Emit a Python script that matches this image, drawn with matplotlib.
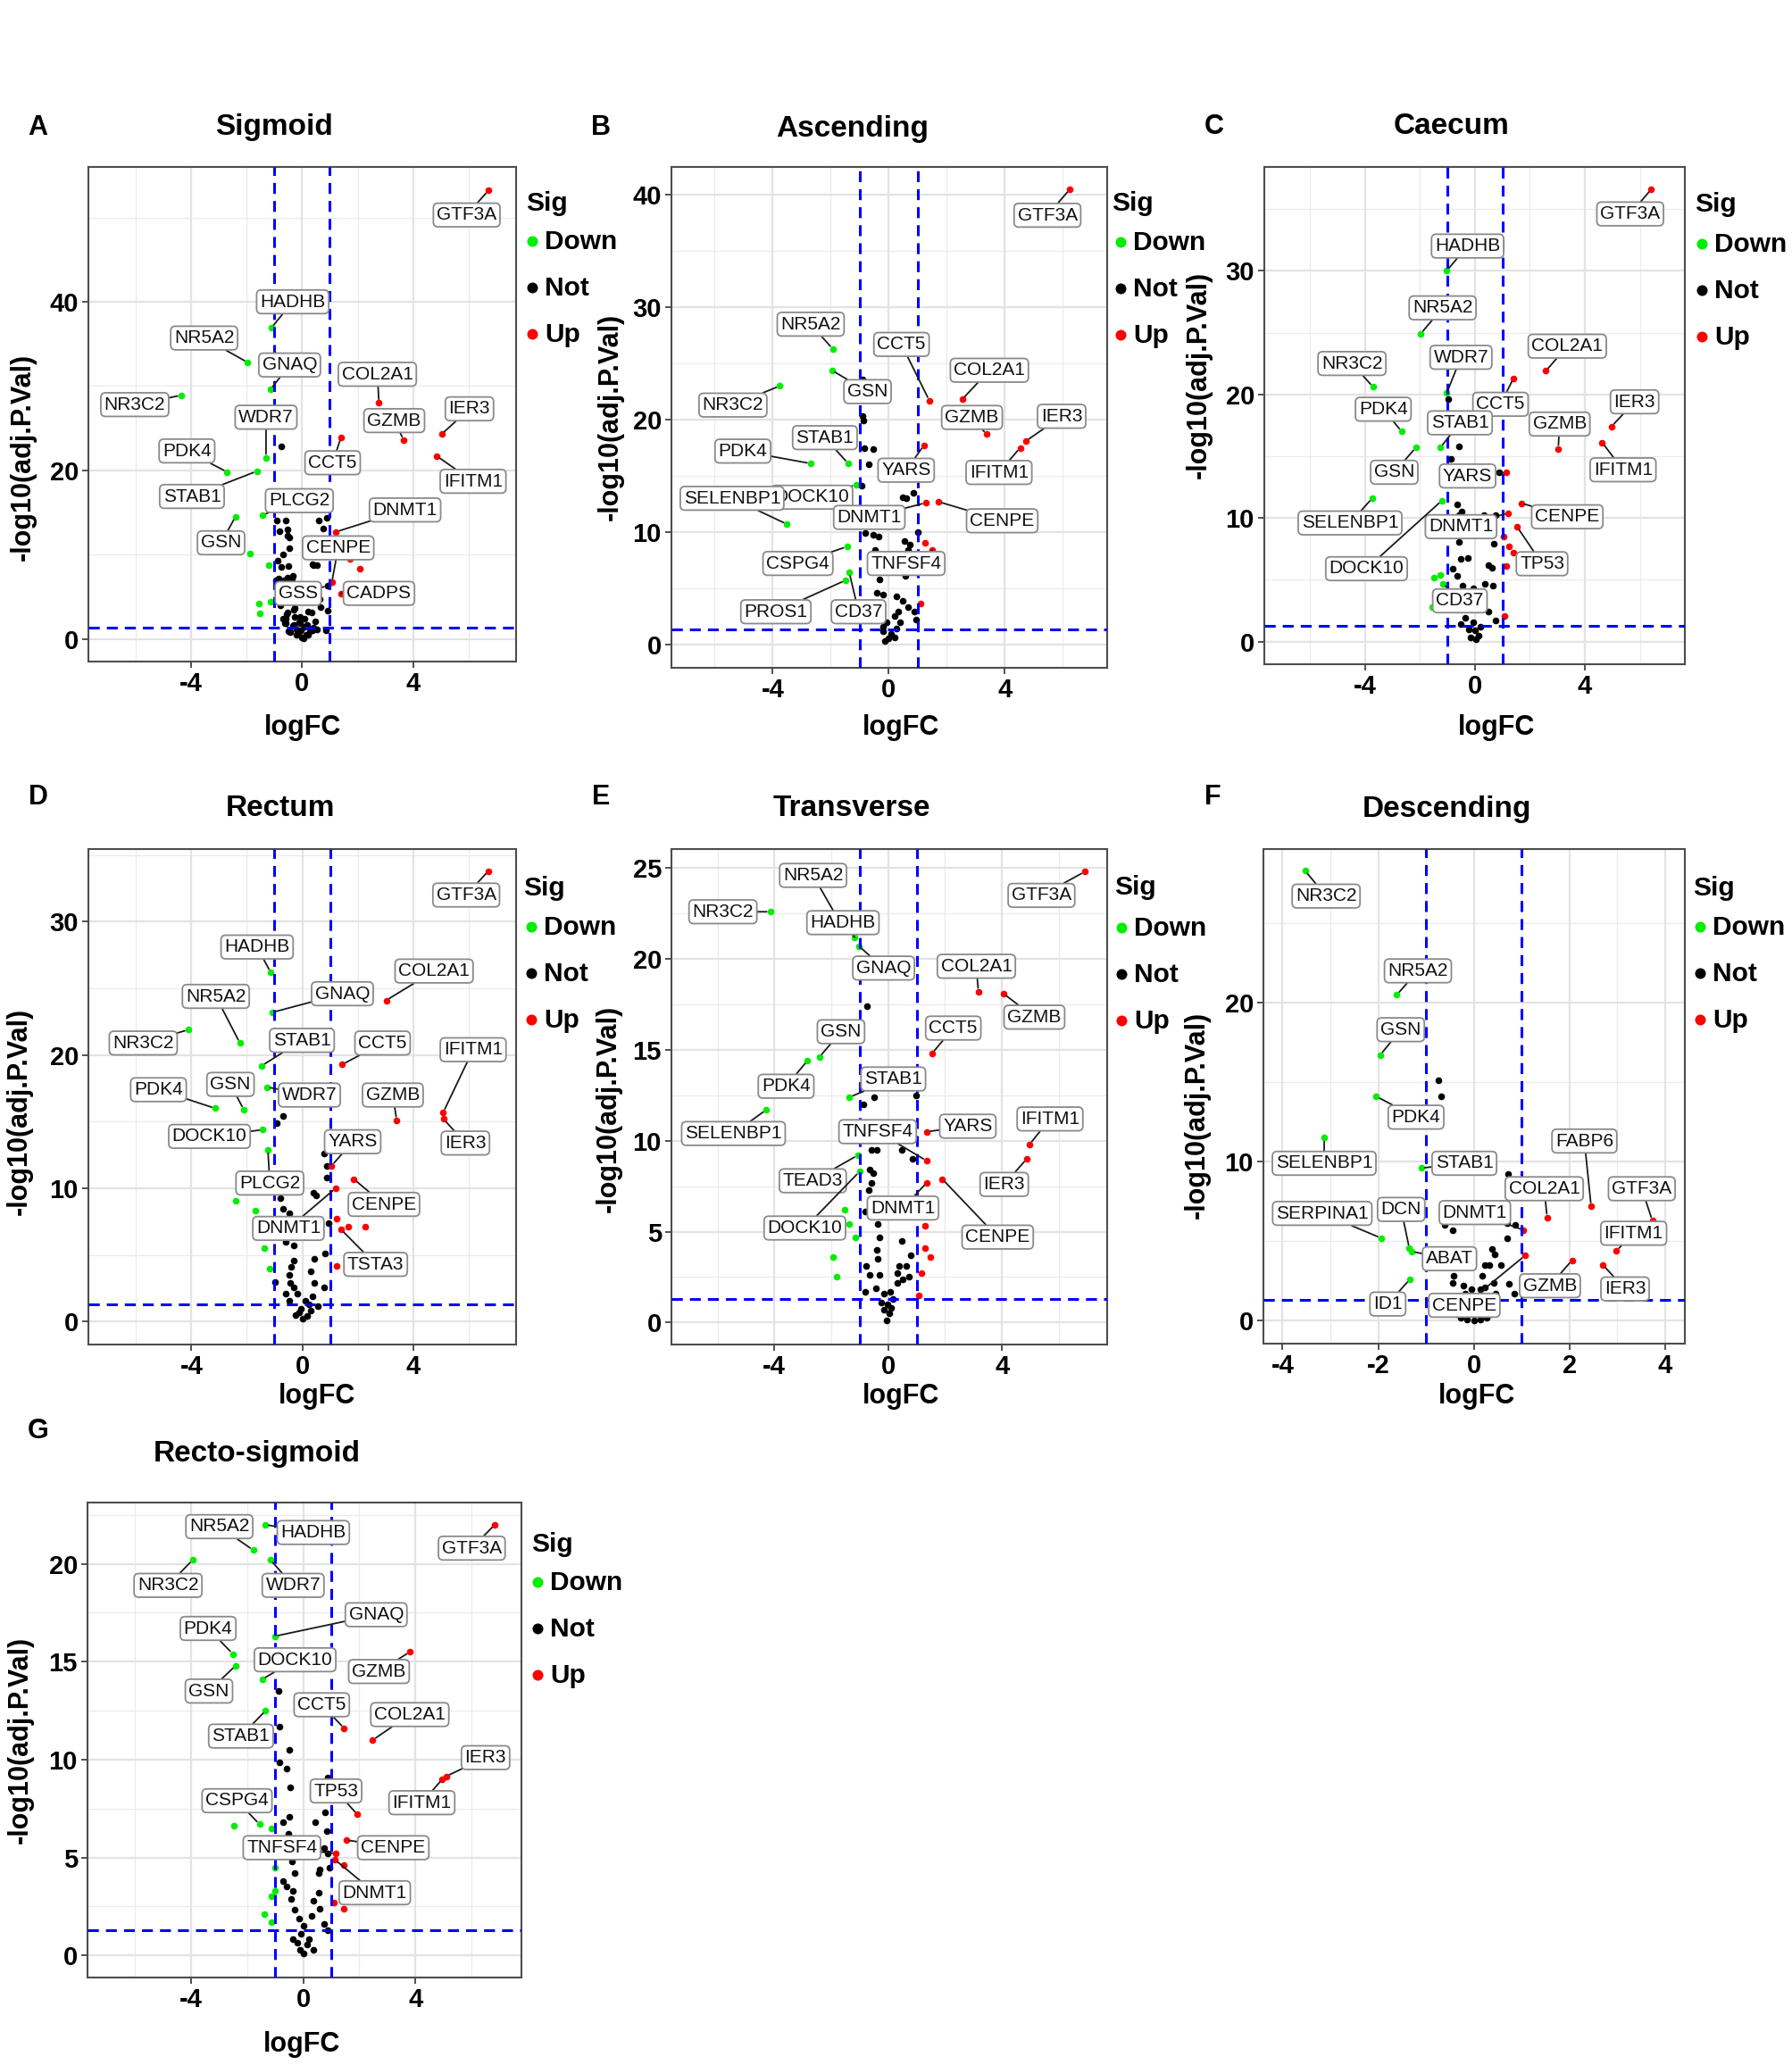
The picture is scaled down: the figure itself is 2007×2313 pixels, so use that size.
import numpy as np
import matplotlib
matplotlib.use("Agg")
import matplotlib.pyplot as plt

plt.rcParams['font.family'] = ['Liberation Sans', 'DejaVu Sans']
plt.rcParams['font.weight'] = 'bold'

W, H = 2008, 2313
P_CUT = 1.3   # -log10(0.05)
FC_CUT = 1.0

# ---------------- data (logFC, -log10 adj.P) ----------------
# A  Sigmoid
sig_genes = ['GTF3A', 'HADHB', 'NR5A2', 'GNAQ', 'NR3C2', 'WDR7', 'PDK4', 'STAB1', 'COL2A1', 'GZMB',
             'IER3', 'IFITM1', 'CCT5', 'PLCG2', 'DNMT1', 'GSN', 'CENPE', 'CADPS', 'GSS']
sig_fc = [6.71, -1.11, -1.96, -1.14, -4.36, -1.30, -2.70, -1.63, 2.77, 3.66,
          5.03, 4.85, 1.40, -1.42, 1.22, -2.40, 1.07, 1.40, 0.92]
sig_p = [53.2, 36.9, 32.8, 29.6, 28.9, 21.5, 19.8, 19.9, 28.0, 23.6,
         24.3, 21.7, 23.9, 14.7, 12.7, 14.5, 6.7, 5.4, 6.3]
sig_rest_fc = [-1.89, -1.19, -1.55, -1.52, -1.15, 1.73, 2.07,
               -0.75, -0.92, -0.58, 0.59, 0.89, -0.82, -0.52, -0.45, -0.68, -0.89, -0.75, -0.48, 0.41,
               0.55, 0.75, -0.85, -0.64, -0.34, -0.21, -0.48, -0.07, 0.14, 0.34, 0.62, 0.92, -0.27,
               -0.55, -0.07, 0.21, 0.48, -0.62, -0.34, 0.07, 0.41, 0.86, -0.14, 0.0, 0.14, 0.27,
               -0.21, -0.48, -0.07, -0.68, 0.07,
               -0.52, -0.47, -0.58, -0.31, -0.04, 0.22, 0.06, -0.20, -0.42, 0.38, 0.54, -0.52,
               -0.26, -0.10, 0.17, -0.58, -0.31, 0.33, 0.65, -0.79, -0.52, -0.37, 0.38, 0.54, -0.95]
sig_rest_p = [10.1, 8.8, 4.2, 3.0, 4.4, 9.5, 8.3,
              22.8, 14.0, 14.0, 14.0, 14.4, 12.8, 12.3, 10.8, 10.0, 9.3, 8.5, 8.6, 8.7,
              10.0, 13.1, 7.2, 7.0, 7.5, 5.9, 5.2, 4.7, 5.2, 4.4, 4.7, 3.4, 3.7,
              2.9, 2.6, 3.2, 2.1, 1.9, 1.6, 1.4, 1.3, 1.0, 0.6, 0.2, 0.5, 0.9,
              1.1, 0.9, 1.9, 2.4, 2.4,
              13.0, 12.0, 2.4, 1.7, 1.0, 0.45, 0.1, 0.45, 0.8, 1.0, 1.15, 3.1,
              2.6, 2.0, 1.7, 1.9, 3.5, 3.1, 3.8, 4.0, 7.3, 7.2, 8.9, 8.8, 7.0]

# B  Ascending
asc_genes = ['GTF3A', 'NR5A2', 'GSN', 'NR3C2', 'CCT5', 'COL2A1', 'GZMB', 'IER3', 'IFITM1', 'STAB1',
             'PDK4', 'YARS', 'DOCK10', 'SELENBP1', 'DNMT1', 'CENPE', 'TNFSF4', 'CSPG4', 'PROS1', 'CD37']
asc_fc = [6.24, -1.93, -1.96, -3.76, 1.40, 2.53, 3.37, 4.73, 4.53, -1.40,
          -2.69, 1.21, -1.13, -3.51, 1.28, 1.71, 1.51, -1.44, -1.49, -1.36]
asc_p = [40.5, 26.3, 24.4, 23.0, 21.7, 21.8, 18.7, 18.1, 17.5, 16.1,
         16.1, 17.7, 14.2, 10.7, 12.6, 12.7, 8.4, 8.7, 5.7, 6.4]
asc_rest_fc = [1.0, 1.24, 1.11,
               -0.89, -0.87, -0.89, -0.84, -0.53, -0.69, -0.93, 0.47, 0.84, 0.60, -0.80, -0.53, -0.36,
               -0.47, 0.53, 0.73, 0.67, 0.57, -0.31, -0.40, -0.20, 0.27, 0.47, 0.67, 0.89, 0.93, 0.20,
               0.33, -0.07, -0.20, 0.0, 0.20, -0.13, 0.07, -0.33, -0.47, -0.20, 0.27, 0.40]
asc_rest_p = [10.0, 9.0, 3.6,
              20.3, 19.9, 23.6, 17.5, 17.4, 16.0, 14.1, 13.1, 13.5, 13.0, 9.9, 9.75, 9.6,
              8.4, 9.2, 8.9, 8.4, 6.1, 5.8, 4.6, 4.4, 4.3, 3.9, 3.3, 2.9, 2.2, 2.5,
              2.9, 2.0, 1.2, 0.5, 0.6, 0.3, 0.9, 2.7, 3.5, 1.6, 1.4, 2.0]

# C  Caecum
cae_genes = ['GTF3A', 'HADHB', 'NR5A2', 'WDR7', 'NR3C2', 'COL2A1', 'CCT5', 'IER3', 'IFITM1', 'GZMB',
             'PDK4', 'STAB1', 'GSN', 'YARS', 'SELENBP1', 'CENPE', 'DNMT1', 'TP53', 'DOCK10', 'CD37']
cae_fc = [6.42, -1.03, -1.98, -1.03, -3.71, 2.58, 1.40, 4.97, 4.63, 3.03,
          -2.67, -1.26, -2.15, 1.15, -3.74, 1.69, 1.21, 1.53, -1.21, -1.17]
cae_p = [36.6, 30.0, 24.9, 20.1, 20.6, 21.9, 21.3, 17.4, 16.1, 15.6,
         17.0, 15.7, 15.7, 13.7, 11.6, 11.2, 10.4, 9.3, 11.4, 4.7]
cae_rest_fc = [-1.49, -1.28, -1.56, 1.03, 1.25, 1.39, 1.15, 1.08,
               -0.96, -0.60, -0.88, 0.87, -0.65, -0.48, -0.60, 0.34, 0.76, -0.58, 0.69, -0.53,
               -0.25, -0.81, 0.48, 0.62, -0.44, 0.37, 0.65, -0.65, -0.06, 0.48, 0.76, -0.37,
               -0.08, -0.01, 0.13, -0.22, 0.20, 0.03, -0.15, -0.51]
cae_rest_p = [5.2, 5.4, 2.8, 8.5, 7.7, 7.2, 6.1, 2.1,
              19.6, 15.8, 14.8, 13.7, 11.1, 10.5, 10.2, 10.2, 10.2, 8.1, 7.95, 6.7,
              6.8, 5.9, 6.2, 6.0, 4.5, 4.7, 4.5, 5.3, 4.3, 2.4, 1.7, 1.9,
              1.6, 0.9, 0.5, 1.0, 1.2, 0.2, 0.35, 1.4]

# D  Rectum
rec_genes = ['GTF3A', 'HADHB', 'COL2A1', 'GNAQ', 'NR5A2', 'NR3C2', 'STAB1', 'CCT5', 'IFITM1', 'IER3',
             'PDK4', 'GSN', 'WDR7', 'GZMB', 'DOCK10', 'YARS', 'PLCG2', 'CENPE', 'DNMT1', 'TSTA3']
rec_fc = [6.72, -1.14, 3.03, -1.08, -2.25, -4.11, -1.46, 1.45, 5.09, 5.10,
          -3.14, -2.11, -1.28, 3.41, -1.42, 1.06, -1.24, 1.86, 1.20, 1.41]
rec_p = [33.8, 26.2, 24.1, 23.2, 20.9, 21.9, 19.2, 19.3, 15.7, 15.2,
         16.0, 15.9, 17.6, 15.1, 14.4, 11.7, 12.9, 10.7, 10.0, 6.9]
rec_rest_fc = [1.23, 1.66, 2.26, 1.24, -2.39, -1.70, -1.38, -1.19,
               -0.69, -0.91, 0.79, 0.88, 0.90, 0.40, 0.51, -0.80, -0.70, -0.46, 0.95, -0.59,
               -0.32, 0.83, 0.44, 0.30, -0.32, -0.39, -0.46, -0.98, 0.44, 0.79, -0.32, -0.18,
               0.10, 0.23, 0.58, -0.46, -0.04, -0.25, 0.03, 0.17, -0.11, 0.30, -0.59, -0.43, 0.37]
rec_rest_p = [7.7, 7.1, 7.1, 4.2, 9.1, 8.3, 5.5, 4.0,
              15.4, 14.9, 12.6, 11.7, 10.8, 9.7, 9.5, 9.3, 8.5, 8.1, 7.4, 6.0,
              5.7, 5.1, 4.7, 3.8, 4.6, 4.1, 3.5, 3.0, 2.9, 2.6, 2.6, 2.1,
              1.6, 1.3, 1.15, 1.6, 1.0, 0.5, 0.2, 0.4, 0.7, 0.85, 2.1, 2.9, 1.9]

# E  Transverse
tra_genes = ['GTF3A', 'NR5A2', 'HADHB', 'GNAQ', 'NR3C2', 'COL2A1', 'GZMB', 'GSN', 'CCT5', 'PDK4',
             'STAB1', 'SELENBP1', 'TNFSF4', 'YARS', 'IFITM1', 'IER3', 'TEAD3', 'DOCK10', 'DNMT1', 'CENPE']
tra_fc = [6.91, -1.80, -1.18, -1.02, -4.14, 3.17, 4.05, -2.42, 1.54, -2.84,
          -1.36, -4.29, 1.35, 1.36, 4.97, 4.87, -1.07, -1.01, 1.36, 1.90]
tra_p = [24.8, 22.3, 21.2, 20.7, 22.6, 18.2, 18.1, 14.6, 14.8, 14.4,
         12.4, 11.7, 8.9, 10.5, 9.8, 9.0, 9.2, 8.3, 7.7, 7.9]
tra_rest_fc = [-1.52, -1.36, -1.16, -1.93, -1.82, 1.29, 1.29, 1.47, 1.16, 1.09,
               -0.73, -0.50, -0.87, 0.97, -0.60, -0.41, 0.49, 0.86, -0.64, -0.53, -0.60, -0.67,
               -0.82, -0.37, -0.30, -0.39, 0.48, -0.37, 0.79, 0.38, 0.65, -0.78, -0.64, -0.30,
               0.31, 0.52, 0.72, 0.31, -0.44, -0.82, -0.16, 0.08, -0.03, -0.16, 0.04, -0.05,
               0.11, -0.23, 0.18]
tra_rest_p = [6.2, 5.4, 4.7, 3.6, 2.5, 5.3, 4.1, 3.6, 2.7, 1.5,
              17.4, 12.4, 12.0, 12.5, 9.5, 9.5, 9.5, 9.0, 8.4, 8.2, 7.7, 7.3,
              6.1, 5.4, 4.7, 4.0, 4.5, 3.5, 3.7, 3.1, 3.1, 3.1, 2.6, 2.6,
              2.7, 2.4, 2.5, 2.2, 1.9, 1.7, 1.6, 1.7, 1.0, 0.7, 0.5, 0.1,
              0.8, 1.1, 1.3]

# F  Descending
des_genes = ['NR3C2', 'NR5A2', 'GSN', 'PDK4', 'SELENBP1', 'STAB1', 'FABP6', 'COL2A1', 'GTF3A', 'SERPINA1',
             'DCN', 'ABAT', 'DNMT1', 'IFITM1', 'GZMB', 'IER3', 'CENPE', 'ID1']
des_fc = [-3.53, -1.61, -1.96, -2.04, -3.13, -1.10, 2.45, 1.53, 3.73, -1.94,
          -1.35, -1.30, 1.04, 2.98, 2.05, 2.70, 1.07, -1.34]
des_p = [28.3, 20.5, 16.7, 14.1, 11.5, 9.6, 7.2, 6.5, 6.3, 5.2,
         4.55, 4.35, 5.7, 4.4, 3.8, 3.5, 4.1, 2.6]
des_rest_fc = [-0.75, -0.69, 0.72, -0.61, -0.44, 0.69, 0.38, 0.44, 0.22, 0.32, 0.56, -0.43, -0.44,
               -0.22, -0.06, 0.18, 0.22, 0.42, 0.74, 0.85, -0.19, 0.14, 0.46, -0.27, -0.15, 0.0,
               0.14, 0.26, -0.35, 0.34, 0.70, 0.86, 0.46]
des_rest_p = [15.1, 14.1, 9.2, 6.0, 5.7, 5.2, 4.5, 4.2, 3.5, 3.5, 3.5, 2.8, 2.4,
              2.2, 2.0, 2.8, 2.1, 2.4, 2.3, 1.7, 1.7, 2.0, 1.7, 0.2, 0.08, 0.0,
              0.08, 0.2, 0.4, 0.4, 6.15, 6.0, 6.3]

# G  Recto-sigmoid
rsg_genes = ['GTF3A', 'HADHB', 'NR5A2', 'NR3C2', 'WDR7', 'GNAQ', 'PDK4', 'GSN', 'GZMB', 'DOCK10',
             'CCT5', 'COL2A1', 'STAB1', 'IER3', 'IFITM1', 'TP53', 'CSPG4', 'TNFSF4', 'CENPE', 'DNMT1']
rsg_fc = [6.83, -1.36, -1.78, -3.94, -1.17, -1.02, -2.51, -2.41, 3.80, -1.46,
          1.46, 2.48, -1.34, 5.10, 4.96, 1.93, -1.56, 1.17, 1.53, 1.12]
rsg_p = [22.0, 22.0, 20.7, 20.2, 20.2, 16.3, 15.4, 14.8, 15.5, 14.1,
         11.6, 11.0, 12.5, 9.15, 9.0, 7.2, 6.7, 5.2, 5.9, 4.9]
rsg_rest_fc = [1.46, 1.09, 1.46, -2.48, -1.12, -1.02, -1.12, -1.02, -1.39, -1.12,
               -0.88, -0.85, -0.51, -0.85, -0.58, -0.47, 0.88, -0.51, -0.73, 0.77, 0.44, 0.83,
               -0.54, 0.73, 0.88, 0.95, 0.58, 0.55, -0.41, -0.29, -0.73, -0.58, -0.36, -0.44,
               0.55, 0.36, 0.58, -0.29, -0.15, 0.29, 0.73, 0.88, 0.0, -0.07, -0.36, -0.22,
               0.15, 0.36, 0.0, -0.12, 0.22]
rsg_rest_p = [4.6, 2.7, 2.4, 6.6, 6.5, 4.5, 3.0, 3.3, 2.1, 1.7,
              13.5, 11.7, 10.5, 9.85, 9.55, 8.6, 9.1, 7.1, 6.8, 7.3, 6.8, 6.35,
              6.2, 5.5, 5.2, 4.5, 4.4, 4.2, 4.8, 4.2, 3.8, 3.5, 3.3, 2.9,
              3.2, 2.8, 2.4, 2.35, 1.9, 2.0, 1.6, 1.3, 1.5, 1.1, 0.85, 0.65,
              0.55, 0.3, 0.1, 0.3, 0.85]

titles = ['Sigmoid', 'Ascending', 'Caecum', 'Rectum', 'Transverse', 'Descending', 'Recto-sigmoid']
letters = ['A', 'B', 'C', 'D', 'E', 'F', 'G']
sig_levels = ['Down', 'Not', 'Up']
sig_colors = {'Down': '#00ee00', 'Not': 'black', 'Up': '#ff0000'}

# ---------------- layout (label boxes, panel geometry) ----------------
sig_lab = {'GTF3A': (5.93, 50.3), 'HADHB': (-0.34, 40.0), 'NR5A2': (-3.53, 35.7), 'GNAQ': (-0.45, 32.5),
           'NR3C2': (-6.03, 27.8), 'WDR7': (-1.30, 26.3), 'PDK4': (-4.15, 22.3), 'STAB1': (-3.97, 16.9),
           'COL2A1': (2.71, 31.4), 'GZMB': (3.32, 25.9), 'IER3': (6.03, 27.3), 'IFITM1': (6.16, 18.7),
           'CCT5': (1.10, 20.9), 'PLCG2': (-0.10, 16.4), 'DNMT1': (3.71, 15.3), 'GSN': (-2.92, 11.4),
           'CENPE': (1.30, 10.8), 'CADPS': (2.77, 5.4), 'GSS': (-0.14, 5.4)}
asc_lab = {'GTF3A': (5.47, 38.2), 'NR5A2': (-2.69, 28.5), 'GSN': (-0.73, 22.5), 'NR3C2': (-5.37, 21.3),
           'CCT5': (0.44, 26.7), 'COL2A1': (3.47, 24.4), 'GZMB': (2.87, 20.2), 'IER3': (5.96, 20.3),
           'IFITM1': (3.80, 15.3), 'STAB1': (-2.20, 18.4), 'PDK4': (-5.03, 17.2), 'YARS': (0.60, 15.5),
           'DOCK10': (-2.65, 13.1), 'SELENBP1': (-5.40, 13.0), 'DNMT1': (-0.67, 11.3), 'CENPE': (3.91, 11.0),
           'TNFSF4': (0.60, 7.2), 'CSPG4': (-3.13, 7.2), 'PROS1': (-3.89, 2.9), 'CD37': (-1.04, 2.9)}
cae_lab = {'GTF3A': (5.65, 34.6), 'HADHB': (-0.27, 32.0), 'NR5A2': (-1.18, 27.0), 'WDR7': (-0.51, 23.0),
           'NR3C2': (-4.48, 22.5), 'COL2A1': (3.36, 23.9), 'CCT5': (0.93, 19.2), 'IER3': (5.81, 19.4),
           'IFITM1': (5.39, 13.9), 'GZMB': (3.08, 17.6), 'PDK4': (-3.34, 18.8), 'STAB1': (-0.55, 17.7),
           'GSN': (-2.94, 13.7), 'YARS': (-0.27, 13.4), 'SELENBP1': (-4.55, 9.6), 'CENPE': (3.36, 10.1),
           'DNMT1': (-0.51, 9.3), 'TP53': (2.44, 6.3), 'DOCK10': (-3.95, 5.9), 'CD37': (-0.55, 3.3)}
rec_lab = {'GTF3A': (5.92, 32.0), 'HADHB': (-1.63, 28.1), 'COL2A1': (4.76, 26.3), 'GNAQ': (1.45, 24.6),
           'NR5A2': (-3.12, 24.4), 'NR3C2': (-5.74, 20.9), 'STAB1': (-0.01, 21.1), 'CCT5': (2.90, 20.9),
           'IFITM1': (6.17, 20.4), 'IER3': (5.89, 13.4), 'PDK4': (-5.19, 17.4), 'GSN': (-2.59, 17.8),
           'WDR7': (0.26, 17.0), 'GZMB': (3.27, 17.0), 'DOCK10': (-3.35, 13.9), 'YARS': (1.82, 13.5),
           'PLCG2': (-1.17, 10.4), 'CENPE': (2.95, 8.8), 'DNMT1': (-0.50, 7.0), 'TSTA3': (2.65, 4.3)}
tra_lab = {'GTF3A': (5.39, 23.5), 'NR5A2': (-2.64, 24.6), 'HADHB': (-1.59, 22.0), 'GNAQ': (-0.16, 19.5),
           'NR3C2': (-5.81, 22.6), 'COL2A1': (3.10, 19.6), 'GZMB': (5.14, 16.8), 'GSN': (-1.66, 16.0),
           'CCT5': (2.29, 16.2), 'PDK4': (-3.59, 13.0), 'STAB1': (0.18, 13.4), 'SELENBP1': (-5.44, 10.4),
           'TNFSF4': (-0.37, 10.5), 'YARS': (2.80, 10.8), 'IFITM1': (5.69, 11.2), 'IER3': (4.08, 7.6),
           'TEAD3': (-2.65, 7.8), 'DOCK10': (-2.93, 5.2), 'DNMT1': (0.52, 6.3), 'CENPE': (3.85, 4.7)}
des_lab = {'NR3C2': (-3.09, 26.7), 'NR5A2': (-1.17, 22.0), 'GSN': (-1.53, 18.3), 'PDK4': (-1.21, 12.8),
           'SELENBP1': (-3.13, 9.9), 'STAB1': (-0.20, 9.9), 'FABP6': (2.31, 11.3), 'COL2A1': (1.47, 8.3),
           'GTF3A': (3.51, 8.3), 'SERPINA1': (-3.17, 6.75), 'DCN': (-1.52, 7.0), 'ABAT': (-0.51, 3.9),
           'DNMT1': (0.02, 6.8), 'IFITM1': (3.34, 5.5), 'GZMB': (1.59, 2.2), 'IER3': (3.16, 2.0),
           'CENPE': (-0.20, 0.97), 'ID1': (-1.80, 1.05)}
rsg_lab = {'GTF3A': (6.01, 20.8), 'HADHB': (0.36, 21.6), 'NR5A2': (-2.99, 21.9), 'NR3C2': (-4.82, 18.9),
           'WDR7': (-0.36, 18.9), 'GNAQ': (2.60, 17.4), 'PDK4': (-3.39, 16.7), 'GSN': (-3.36, 13.5),
           'GZMB': (2.70, 14.5), 'DOCK10': (-0.29, 15.1), 'CCT5': (0.66, 12.8), 'COL2A1': (3.80, 12.3),
           'STAB1': (-2.22, 11.2), 'IER3': (6.50, 10.1), 'IFITM1': (4.23, 7.8), 'TP53': (1.17, 8.4),
           'CSPG4': (-2.36, 7.9), 'TNFSF4': (-0.76, 5.5), 'CENPE': (3.21, 5.5), 'DNMT1': (2.55, 3.2)}

panels = [
    # data, labels, rect px (l,t,r,b), xlim, ylim, xticks, yticks, minor x, minor y
    (sig_genes, sig_fc, sig_p, sig_rest_fc, sig_rest_p, sig_lab, (99, 187, 578, 741),
     (-7.70, 7.71), (-2.69, 56.0), [-4, 0, 4], [0, 20, 40], [-6, -2, 2, 6], [10, 30, 50]),
    (asc_genes, asc_fc, asc_p, asc_rest_fc, asc_rest_p, asc_lab, (752, 187, 1240, 748),
     (-7.49, 7.53), (-2.09, 42.5), [-4, 0, 4], [0, 10, 20, 30, 40], [-6, -2, 2, 6], [5, 15, 25, 35]),
    (cae_genes, cae_fc, cae_p, cae_rest_fc, cae_rest_p, cae_lab, (1416, 187, 1887, 744),
     (-7.67, 7.64), (-1.83, 38.4), [-4, 0, 4], [0, 10, 20, 30], [-6, -2, 2, 6], [5, 15, 25, 35]),
    (rec_genes, rec_fc, rec_p, rec_rest_fc, rec_rest_p, rec_lab, (99, 951, 578, 1506),
     (-7.72, 7.72), (-1.71, 35.45), [-4, 0, 4], [0, 10, 20, 30], [-6, -2, 2, 6], [5, 15, 25, 35]),
    (tra_genes, tra_fc, tra_p, tra_rest_fc, tra_rest_p, tra_lab, (752, 951, 1240, 1506),
     (-7.62, 7.70), (-1.21, 26.05), [-4, 0, 4], [0, 5, 10, 15, 20, 25], [-6, -2, 2, 6], [2.5, 7.5, 12.5, 17.5, 22.5]),
    (des_genes, des_fc, des_p, des_rest_fc, des_rest_p, des_lab, (1415, 951, 1887, 1505),
     (-4.40, 4.41), (-1.44, 29.66), [-4, -2, 0, 2, 4], [0, 10, 20], [-3, -1, 1, 3], [5, 15, 25]),
    (rsg_genes, rsg_fc, rsg_p, rsg_rest_fc, rsg_rest_p, rsg_lab, (98, 1683, 584, 2215),
     (-7.69, 7.78), (-1.13, 23.13), [-4, 0, 4], [0, 5, 10, 15, 20], [-6, -2, 2, 6], [2.5, 7.5, 12.5, 17.5, 22.5]),
]

# text positions in pixels: letter, title, xlabel, ylabel, legend (sig-left, sig-y, dot-x, first dot y)
text_pos = [
    ((42, 143), (307, 142), (339, 815), (26, 512), (589, 228, 596, 270)),
    ((673, 143), (955, 144), (1009, 815), (684, 467), (1245, 228, 1255, 271)),
    ((1360, 142), (1626, 142), (1676, 815), (1343, 420), (1898, 229, 1906, 273)),
    ((43, 893), (314, 906), (355, 1564), (22, 1245), (586, 995, 595, 1038)),
    ((673, 893), (954, 906), (1009, 1564), (682, 1242), (1248, 994, 1256, 1039)),
    ((1358, 893), (1620, 906), (1654, 1564), (1341, 1249), (1896, 995, 1904, 1038)),
    ((43, 1603), (288, 1629), (338, 2290), (23, 1949), (595, 1730, 602, 1772)),
]
LEG_STEP = 52

fig = plt.figure(figsize=(W / 100, H / 100), dpi=100)

for (genes, fc, p, rfc, rp, lab, rect, xl, yl, xt, yt, xm, ym) in panels:
    l, t, r, b = rect
    ax = fig.add_axes([l / W, 1 - b / H, (r - l) / W, (b - t) / H])
    ax.set_xlim(*xl)
    ax.set_ylim(*yl)
    for v in xm:
        ax.axvline(v, color='#ebebeb', lw=0.9, zorder=0)
    for v in ym:
        ax.axhline(v, color='#ebebeb', lw=0.9, zorder=0)
    for v in xt:
        ax.axvline(v, color='#e3e3e3', lw=1.6, zorder=0)
    for v in yt:
        ax.axhline(v, color='#e3e3e3', lw=1.6, zorder=0)

    all_fc = np.array(list(rfc) + list(fc))
    all_p = np.array(list(rp) + list(p))
    cls = np.where((all_fc > FC_CUT) & (all_p > P_CUT), 'Up',
                   np.where((all_fc < -FC_CUT) & (all_p > P_CUT), 'Down', 'Not'))
    for s in ['Not', 'Down', 'Up']:
        m = cls == s
        ax.scatter(all_fc[m], all_p[m], s=30, c=sig_colors[s], linewidths=0, zorder=2)

    dash = dict(color='#0000ff', lw=2.2, dashes=(4, 2.6), zorder=3)
    ax.axvline(-FC_CUT, **dash)
    ax.axvline(FC_CUT, **dash)
    ax.axhline(P_CUT, **dash)

    for g, x, y in zip(genes, fc, p):
        lx, ly = lab[g]
        ax.annotate(g, xy=(x, y), xytext=(lx, ly), ha='center', va='center',
                    fontsize=15, fontweight='normal', color='#111111', zorder=6,
                    bbox=dict(boxstyle='round,pad=0.18,rounding_size=0.25', fc='white',
                              ec='#8a8a8a', lw=1.3),
                    arrowprops=dict(arrowstyle='-', color='#1a1a1a', lw=1.3,
                                    shrinkA=0, shrinkB=3))

    ax.set_xticks(xt)
    ax.set_yticks(yt)
    ax.set_xticklabels([str(v) for v in xt])
    ax.set_yticklabels([str(v) for v in yt])
    ax.tick_params(length=5, width=1.2, color='#333333', labelsize=21, pad=3, labelcolor='black')
    for sp in ax.spines.values():
        sp.set_color('#4d4d4d')
        sp.set_linewidth(1.5)

# overlay for titles, letters, axis titles and legends
ov = fig.add_axes([0, 0, 1, 1], facecolor='none')
ov.set_xlim(0, W)
ov.set_ylim(H, 0)
ov.axis('off')

for i, (lt, tt, xlp, ylp, lg) in enumerate(text_pos):
    ov.text(lt[0], lt[1], letters[i], fontsize=22, ha='center', va='center')
    ov.text(tt[0], tt[1], titles[i], fontsize=24, ha='center', va='center')
    ov.text(xlp[0], xlp[1], 'logFC', fontsize=22, ha='center', va='center')
    ov.text(ylp[0], ylp[1], '-log10(adj.P.Val)', fontsize=22, ha='center', va='center',
            rotation=90)
    sx, sy, dx, dy = lg
    ov.text(sx, sy, 'Sig', fontsize=21.5, ha='left', va='center')
    for k, s in enumerate(sig_levels):
        yy = dy + k * LEG_STEP
        ov.scatter([dx], [yy], s=75, c=sig_colors[s], linewidths=0)
        ov.text(dx + 14, yy + 1, s, fontsize=21.5, ha='left', va='center')

fig.savefig('out.png', dpi=100)
